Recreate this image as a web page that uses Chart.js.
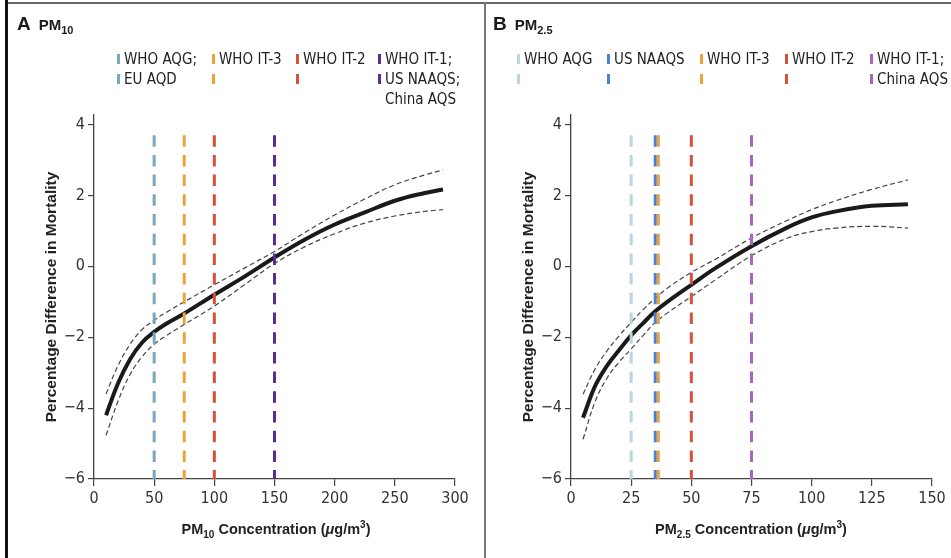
<!DOCTYPE html>
<html>
<head>
<meta charset="utf-8">
<script src="https://cdn.jsdelivr.net/npm/chart.js@4/dist/chart.umd.min.js"></script>
<style>
  body{margin:0;background:#fff;}
  #wrap{position:relative;width:951px;height:558px;background:#fff;overflow:hidden;
    font-family:'Liberation Sans Narrow','DejaVu Sans Condensed',sans-serif;color:#222;}
  .panel{position:absolute;top:0;}
  .title{position:absolute;top:13px;font-family:'Liberation Sans','DejaVu Sans',sans-serif;font-weight:bold;color:#1a1a1a;}
  .title .let{font-size:19px;}
  .title .pm{font-size:15px;margin-left:8px;}
  .title sub{font-size:11px;vertical-align:-4px;}
  .leg{position:absolute;font-size:15px;line-height:20px;white-space:nowrap;color:#222;}
  .leg .row{height:20px;position:relative;padding-left:7px;}
  .leg .mk{position:absolute;left:0;top:5px;width:3px;height:10px;}
  .xt{position:absolute;top:519px;font-family:'Liberation Sans','DejaVu Sans',sans-serif;font-size:14.5px;font-weight:bold;color:#222;transform:translateX(-50%);white-space:nowrap;}
  .xt sub{font-size:10px;vertical-align:-4px;}
  .xt sup{font-size:10px;vertical-align:6px;}
  .line{position:absolute;}
</style>
</head>
<body>
<div id="wrap">
  <div class="line" style="left:5px;top:0;width:3px;height:558px;background:#111;"></div>
  <div class="line" style="left:8px;top:2px;width:943px;height:2px;background:#666;"></div>
  <div class="line" style="left:484px;top:2px;width:2px;height:556px;background:#777;"></div>

  <div class="panel" style="left:0;width:484px;height:558px;"><canvas id="chartA" width="484" height="558"></canvas></div>
  <div class="panel" style="left:487px;width:464px;height:558px;"><canvas id="chartB" width="464" height="558"></canvas></div>

  <div class="title" style="left:17px;"><span class="let">A</span><span class="pm">PM<sub>10</sub></span></div>
  <div class="title" style="left:493px;"><span class="let">B</span><span class="pm">PM<sub>2.5</sub></span></div>

  <div class="xt" style="left:276px;">PM<sub>10</sub> Concentration (<i>μ</i>g/m<sup>3</sup>)</div>
  <div class="xt" style="left:751px;">PM<sub>2.5</sub> Concentration (<i>μ</i>g/m<sup>3</sup>)</div>
  <div id="legA"></div>
  <div id="legB"></div>
</div>
<script>
// Panel A: PM10
const xA = [10, 20, 30, 40, 50, 60, 75, 100, 125, 150, 175, 200, 225, 250, 275, 290];
const estA = [-4.2, -3.3, -2.62, -2.15, -1.85, -1.62, -1.33, -0.8, -0.29, 0.25, 0.75, 1.18, 1.52, 1.85, 2.07, 2.17];
const upA  = [-3.6, -2.8, -2.2, -1.78, -1.52, -1.3, -1.0, -0.52, -0.05, 0.42, 0.95, 1.45, 1.9, 2.3, 2.58, 2.72];
const loA  = [-4.77, -3.8, -3.05, -2.55, -2.2, -1.96, -1.64, -1.12, -0.52, 0.08, 0.55, 0.92, 1.22, 1.42, 1.55, 1.6];
const refA = [50, 75, 100, 150];
const refColA = ['#7aa7bf', '#eba43a', '#d9503a', '#5a2d91'];
const legA = [['WHO AQG;', 'EU AQD'], ['WHO IT-3', ''], ['WHO IT-2', ''], ['WHO IT-1;', 'US NAAQS;', 'China AQS']];
const ticksA = [0, 50, 100, 150, 200, 250, 300];

// Panel B: PM2.5
const xB = [5, 10, 15, 20, 25, 30, 35, 40, 50, 60, 75, 90, 100, 110, 125, 140];
const estB = [-4.27, -3.38, -2.8, -2.36, -1.95, -1.6, -1.27, -1.0, -0.52, -0.05, 0.57, 1.1, 1.38, 1.55, 1.71, 1.75];
const upB  = [-3.61, -2.9, -2.38, -1.96, -1.58, -1.22, -0.9, -0.62, -0.17, 0.2, 0.8, 1.3, 1.6, 1.85, 2.17, 2.44];
const loB  = [-4.88, -3.82, -3.15, -2.7, -2.33, -1.95, -1.58, -1.32, -0.85, -0.38, 0.3, 0.8, 0.98, 1.08, 1.13, 1.08];
const refB = [25, 35, 36.3, 50, 75];
const refColB = ['#b9d6e2', '#4f7fcf', '#eba43a', '#d9503a', '#a866bd'];
const legB = [['WHO AQG', ''], ['US NAAQS', ''], ['WHO IT-3', ''], ['WHO IT-2', ''], ['WHO IT-1;', 'China AQS']];
const ticksB = [0, 25, 50, 75, 100, 125, 150];

const yTicks = [-6, -4, -2, 0, 2, 4];
const yTop = 3.7;

const FONT = "'Liberation Sans Narrow','DejaVu Sans Condensed',sans-serif";

function pts(xs, ys){ return xs.map((x,i)=>({x, y:ys[i]})); }

function buildChart(id, xs, est, up, lo, refs, cols, xTicks, yW, padR, titleOff){
  const refSets = refs.map((r,i)=>({
    data:[{x:r, y:yTop},{x:r, y:yTicks[0]}],
    borderColor:cols[i], borderWidth:3, borderDash:[11.5, 8.2], pointRadius:0
  }));
  const curve = (ys, w, dash)=>({
    data:pts(xs, ys), borderColor: dash ? '#444' : '#1a1a1a', borderWidth:w,
    borderDash: dash ? [5, 3] : [], pointRadius:0, tension:0.4
  });
  new Chart(document.getElementById(id), {
    type:'line',
    data:{ datasets:[...refSets, curve(est, 4, false), curve(up, 1.2, true), curve(lo, 1.2, true)] },
    options:{
      responsive:false, animation:false, devicePixelRatio:1,
      layout:{ padding:{ left:0, right:padR, top:115, bottom:0 } },
      plugins:{ legend:{display:false}, tooltip:{enabled:false} },
      scales:{
        x:{
          type:'linear', min:xTicks[0], max:xTicks[xTicks.length-1],
          afterBuildTicks: s => { s.ticks = xTicks.map(v=>({value:v})); },
          afterFit: s => { s.height = 79; },
          ticks:{ color:'#333', font:{family:FONT, size:16}, padding:3, maxRotation:0 },
          grid:{ drawOnChartArea:false, tickLength:7, color:'#444', lineWidth:1.2 },
          border:{ color:'#444', width:1.3 }
        },
        y:{
          min:-6, max:4.27,
          afterBuildTicks: s => { s.ticks = yTicks.map(v=>({value:v})); },
          afterFit: s => { s.width = yW; },
          ticks:{ color:'#333', font:{family:FONT, size:16}, padding:3,
            callback: v => v < 0 ? '\u2212' + Math.abs(v) : String(v) },
          grid:{ drawOnChartArea:false, tickLength:6, color:'#444', lineWidth:1.2 },
          border:{ color:'#444', width:1.3 },
          title:{ display:true, text:'Percentage Difference in Mortality', color:'#222',
            font:{ family:"'Liberation Sans','DejaVu Sans',sans-serif", size:15.5, weight:'bold' },
            padding:{ top:titleOff, bottom:0 } }
        }
      }
    }
  });
}

function buildLegend(id, items, cols, xs, startTop){
  const host = document.getElementById(id);
  items.forEach((lines, i)=>{
    const d = document.createElement('div');
    d.className = 'leg';
    d.style.left = xs[i] + 'px';
    d.style.top = startTop + 'px';
    lines.forEach((t, j)=>{
      const r = document.createElement('div');
      r.className = 'row';
      if (j < 2) {
        const m = document.createElement('span');
        m.className = 'mk';
        m.style.background = cols[i];
        r.appendChild(m);
      }
      r.appendChild(document.createTextNode(t));
      d.appendChild(r);
    });
    host.appendChild(d);
  });
}

buildChart('chartA', xA, estA, upA, loA, refA, refColA, ticksA, 94, 29, 42);
buildChart('chartB', xB, estB, upB, loB, refB, refColB, ticksB, 84, 19, 32);

buildLegend('legA', legA, refColA, [117, 212, 296, 378], 49);
buildLegend('legB', legB, refColB, [517, 607, 700, 785, 870], 49);
</script>
</body>
</html>
